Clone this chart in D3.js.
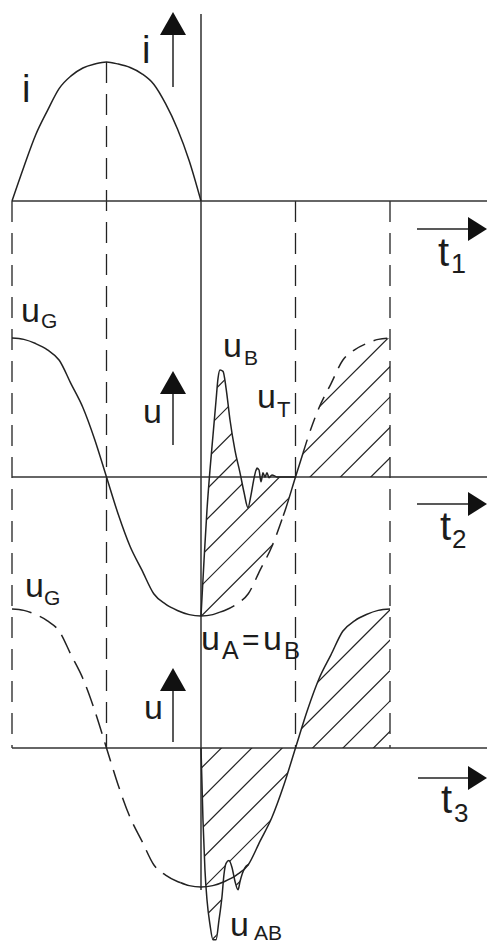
<!DOCTYPE html>
<html>
<head>
<meta charset="utf-8">
<script src="https://cdn.jsdelivr.net/npm/d3@7"></script>
<style>
  html, body { margin: 0; padding: 0; background: #fff; }
  svg { display: block; }
  text { font-family: "Liberation Sans", Arial, sans-serif; fill: #1c1c1c; }
</style>
</head>
<body>
<svg id="chart" width="487" height="945"></svg>
<script>
// Time is measured in quarter periods (0..4); amplitudes are normalised to 1.
const gridTimes = [0, 1, 2, 3, 4];

// Current i over the first half period
const iTimes  = [0, 0.125, 0.25, 0.375, 0.5, 0.625, 0.75, 0.875, 1, 1.125, 1.25, 1.375, 1.5, 1.625, 1.75, 1.875, 2];
const iValues = [0, 0.245, 0.475, 0.65, 0.81, 0.90, 0.957, 0.985, 1.0, 0.985, 0.96, 0.915, 0.84, 0.70, 0.52, 0.29, 0];

// Generator voltage u_G over a full period
const uGTimes  = [0, 0.125, 0.25, 0.375, 0.5, 0.625, 0.75, 0.875, 1, 1.125, 1.25, 1.375, 1.5, 1.625, 1.75, 1.875, 2,
                  2.125, 2.25, 2.375, 2.5, 2.625, 2.75, 2.875, 3, 3.125, 3.25, 3.375, 3.5, 3.625, 3.75, 3.875, 4];
const uGValues = [1.0, 0.99, 0.96, 0.915, 0.84, 0.67, 0.50, 0.27, 0, -0.27, -0.50, -0.67, -0.84, -0.915, -0.96, -0.99, -1.0,
                  -0.99, -0.96, -0.915, -0.84, -0.67, -0.50, -0.27, 0, 0.27, 0.50, 0.67, 0.84, 0.915, 0.96, 0.99, 1.0];

// Arc voltage u_B after current zero (spike, oscillation, settling)
const uBTimes  = [2.000, 2.032, 2.063, 2.095, 2.127, 2.159, 2.180, 2.201, 2.233, 2.265, 2.307, 2.360, 2.413, 2.455, 2.497,
                  2.529, 2.561, 2.593, 2.614, 2.635, 2.656, 2.677, 2.698, 2.720, 2.751, 2.804, 3.000];
const uBValues = [-1.0, -0.60, -0.24, 0.05, 0.30, 0.55, 0.71, 0.77, 0.76, 0.64, 0.41, 0.19, 0.03, -0.11, -0.22,
                  -0.13, -0.01, 0.065, 0.05, -0.035, 0.03, 0, 0.03, -0.005, 0.015, 0, 0];

// Difference voltage u_AB (spike before it rejoins u_G)
const uABTimes  = [2.000, 2.021, 2.042, 2.063, 2.095, 2.127, 2.159, 2.190, 2.222, 2.243, 2.265, 2.296, 2.328, 2.360, 2.392, 2.413, 2.434, 2.466];
const uABValues = [0, -0.52, -0.88, -1.09, -1.27, -1.38, -1.38, -1.24, -1.07, -0.91, -0.83, -0.81, -0.86, -0.96, -1.02, -0.96, -0.91, -0.86];

const W = 487, H = 945;
const ink = "#222";
const svg = d3.select("#chart");
svg.append("rect").attr("width", W).attr("height", H).attr("fill", "#fff");

const x = d3.scaleLinear().domain([0, 4]).range([12, 390]);
const yI  = d3.scaleLinear().domain([0, 1]).range([201, 62]);
const yU2 = d3.scaleLinear().domain([-1, 1]).range([616, 338]);
const yU3 = d3.scaleLinear().domain([-1, 1]).range([887, 609]);

const zip = (ts, vs) => ts.map((t, k) => ({ t, v: vs[k] }));
const iData  = zip(iTimes, iValues);
const uGData = zip(uGTimes, uGValues);
const uBData = zip(uBTimes, uBValues);
const uABData = zip(uABTimes, uABValues);

// u_G sampled at an arbitrary time (piecewise linear between listed points)
const uGAt = t => {
  const k = Math.min(uGTimes.length - 2, Math.max(0, d3.bisectRight(uGTimes, t) - 1));
  const f = (t - uGTimes[k]) / (uGTimes[k + 1] - uGTimes[k]);
  return uGValues[k] + f * (uGValues[k + 1] - uGValues[k]);
};
const uGRange = (a, b) => {
  const pts = [{ t: a, v: uGAt(a) }];
  uGData.forEach(d => { if (d.t > a && d.t < b) pts.push(d); });
  pts.push({ t: b, v: uGAt(b) });
  return pts;
};

const lineFor = yS => d3.line().x(d => x(d.t)).y(d => yS(d.v)).curve(d3.curveMonotoneX);

// ---------- grid verticals ----------
const vTop = { 0: yI(0), 1: yI(1), 2: 14, 3: yI(0), 4: yI(0) };
const vBottom = { 0: yU3(0), 1: yU3(0), 2: 890, 3: yU3(0), 4: yU3(0) };
svg.append("g").selectAll("line").data(gridTimes).join("line")
  .attr("x1", d => x(d)).attr("x2", d => x(d))
  .attr("y1", d => vTop[d]).attr("y2", d => vBottom[d])
  .attr("stroke", ink).attr("stroke-width", d => d === 2 ? 1.4 : 1.3)
  .attr("stroke-dasharray", d => d === 2 ? null : "21,11");

// ---------- time axes ----------
const axisYs = [yI(0), yU2(0), yU3(0)];
svg.append("g").selectAll("line").data(axisYs).join("line")
  .attr("x1", x(0)).attr("x2", W).attr("y1", d => d).attr("y2", d => d)
  .attr("stroke", "#333").attr("stroke-width", 1.6);

// ---------- hatching ----------
const defs = svg.append("defs");
const hatchStep = 30.4, hatchPhase = 787;
function hatch(id, pathD) {
  defs.append("clipPath").attr("id", id).append("path").attr("d", pathD);
  const ks = [];
  for (let k = hatchPhase - hatchStep * 40; k < hatchPhase + hatchStep * 40; k += hatchStep) ks.push(k);
  svg.append("g").attr("clip-path", `url(#${id})`).selectAll("line").data(ks).join("line")
    .attr("x1", 150).attr("y1", d => d - 150)
    .attr("x2", 450).attr("y2", d => d - 450)
    .attr("stroke", ink).attr("stroke-width", 1.2);
}
const polyPath = (yS, upper, lower) => {
  const a = lineFor(yS)(upper);
  const rev = lower.slice().reverse();
  const b = d3.line().x(d => x(d.t)).y(d => yS(d.v)).curve(d3.curveLinear)(rev);
  return a + "L" + b.slice(1) + "Z";
};
// middle panel: between u_B and u_G, then between axis and u_G
hatch("hm1", polyPath(yU2, uBData, uGRange(2, 3)));
hatch("hm2", polyPath(yU2, [{ t: 3, v: 0 }, { t: 4, v: 0 }], uGRange(3, 4)));
// bottom panel: below axis bounded by u_AB then u_G, and above axis under u_G
const lowerBottom = uABData.concat(uGRange(2.5, 3));
hatch("hb1", polyPath(yU3, [{ t: 2, v: 0 }, { t: 3, v: 0 }], lowerBottom));
hatch("hb2", polyPath(yU3, [{ t: 3, v: 0 }, { t: 4, v: 0 }], uGRange(3, 4)));

// ---------- curves ----------
const curve = (data, yS, dash) => svg.append("path").datum(data)
  .attr("d", lineFor(yS)).attr("fill", "none").attr("stroke", ink)
  .attr("stroke-width", 1.5).attr("stroke-dasharray", dash || null)
  .attr("stroke-linejoin", "round");

// top: current
curve(iData, yI);
// middle: u_G solid up to just after the minimum, then dashed
curve(uGRange(0, 2.2), yU2);
curve(uGRange(2.2, 2.87), yU2, "16,9");
curve(uGRange(2.87, 3.08), yU2);
curve(uGRange(3.08, 4), yU2, "14,9");
curve(uBData, yU2);
// bottom: u_G dashed, then solid from the minimum onwards
curve(uGRange(0, 1.78), yU3, "20,9");
curve(uGRange(1.78, 4), yU3);
curve(uABData.concat([{ t: 2.5, v: uGAt(2.5) }]), yU3);

// ---------- arrows ----------
function upArrow(cx, yBottom, yTip) {
  svg.append("line").attr("x1", cx).attr("x2", cx).attr("y1", yBottom).attr("y2", yTip + 20)
    .attr("stroke", ink).attr("stroke-width", 1.5);
  svg.append("path").attr("d", `M${cx},${yTip}L${cx - 13},${yTip + 23}L${cx + 13},${yTip + 23}Z`).attr("fill", "#111");
}
function rightArrow(x0, cy) {
  svg.append("line").attr("x1", x0).attr("x2", 470).attr("y1", cy).attr("y2", cy)
    .attr("stroke", ink).attr("stroke-width", 1.5);
  svg.append("path").attr("d", `M487,${cy}L468,${cy - 12}L468,${cy + 12}Z`).attr("fill", "#111");
}
upArrow(173, 87, 12);
upArrow(173, 445, 371);
upArrow(173, 742, 668);
rightArrow(417, 229);
rightArrow(417, 504);
rightArrow(418, 778);

// ---------- labels ----------
const label = (tx, ty, str, size) => svg.append("text").attr("x", tx).attr("y", ty)
  .attr("font-size", size).text(str);

label(142, 63, "i", 38);
label(22, 102, "i", 38);

label(21, 322, "u", 34); label(41, 328, "G", 21);
label(143, 423, "u", 34);
label(223, 357, "u", 34); label(244, 365, "B", 21);
label(257, 408, "u", 34); label(277, 417, "T", 22);

label(201, 650, "u", 34); label(222, 659, "A", 25);
label(242, 650, "=", 30);
label(263, 650, "u", 34); label(284, 659, "B", 24);

label(25, 597, "u", 34); label(44, 605, "G", 21);
label(144, 719, "u", 34);
label(230, 936, "u", 34); label(254, 940, "AB", 21);

label(438, 266, "t", 40); label(451, 273, "1", 27);
label(440, 540, "t", 40); label(452, 548, "2", 26);
label(441, 813, "t", 40); label(454, 822, "3", 26);
</script>
</body>
</html>
